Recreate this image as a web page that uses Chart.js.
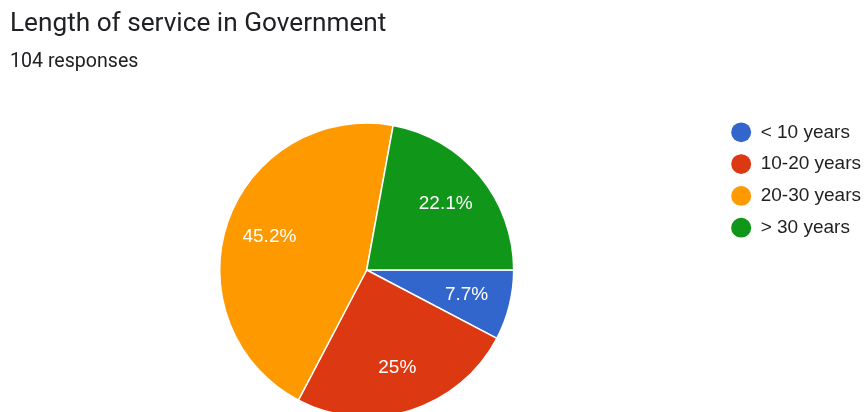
<!DOCTYPE html>
<html>
<head>
<meta charset="utf-8">
<script src="https://cdn.jsdelivr.net/npm/chart.js@4.4.1/dist/chart.umd.min.js"></script>
<style>
  html, body { margin: 0; padding: 0; background: #fff; overflow: hidden; width: 866px; height: 412px; }
  #wrap { position: relative; width: 866px; height: 412px; overflow: hidden; }
  #title { position: absolute; left: 10px; top: 7px; font-family: Roboto, 'Liberation Sans', sans-serif; font-size: 26.2px; color: #202124; white-space: nowrap; }
  #subtitle { position: absolute; left: 10px; top: 49px; font-family: Roboto, 'Liberation Sans', sans-serif; font-size: 19.6px; color: #202124; white-space: nowrap; }
  #c { position: absolute; left: 0; top: 0; }
</style>
</head>
<body>
<div id="wrap">
  <canvas id="c" width="871" height="440" style="width:871px;height:440px"></canvas>
  <div id="title">Length of service in Government</div>
  <div id="subtitle">104 responses</div>
</div>
<script>
const categories = ['< 10 years', '10-20 years', '20-30 years', '> 30 years'];
const responses = [8, 26, 47, 23];
const sliceColors = ['#3366cc', '#dc3912', '#ff9900', '#109618'];

const total = responses.reduce((a, b) => a + b, 0);

const pctLabels = {
  id: 'pctLabels',
  afterDatasetsDraw(chart) {
    const ctx = chart.ctx;
    const meta = chart.getDatasetMeta(0);
    ctx.save();
    ctx.font = '19px "Liberation Sans", Arial, sans-serif';
    ctx.fillStyle = '#ffffff';
    ctx.textAlign = 'center';
    ctx.textBaseline = 'middle';
    meta.data.forEach((arc, i) => {
      const p = arc.getProps(['x', 'y', 'startAngle', 'endAngle', 'outerRadius'], true);
      const mid = (p.startAngle + p.endAngle) / 2;
      const r = p.outerRadius * 0.7;
      const pct = Math.round(responses[i] / total * 1000) / 10;
      ctx.fillText(pct + '%', p.x + Math.cos(mid) * r, p.y + Math.sin(mid) * r);
    });
    ctx.restore();
  }
};

new Chart(document.getElementById('c'), {
  type: 'pie',
  data: {
    labels: categories,
    datasets: [{
      data: responses,
      backgroundColor: sliceColors,
      borderColor: '#ffffff',
      borderWidth: 1.5,
      radius: 147
    }]
  },
  options: {
    responsive: false,
    animation: false,
    rotation: 90,
    layout: { padding: { left: 15, top: 110, bottom: 10, right: 0 } },
    plugins: {
      tooltip: { enabled: false },
      legend: {
        position: 'right',
        align: 'start',
        labels: {
          usePointStyle: true,
          pointStyle: 'circle',
          pointStyleWidth: 20,
          boxHeight: 14,
          padding: 12.8,
          color: '#222222',
          font: { family: '"Liberation Sans", Arial, sans-serif', size: 19 },
          generateLabels(chart) {
            const items = Chart.overrides.pie.plugins.legend.labels.generateLabels(chart);
            items.forEach(it => { it.lineWidth = 0; it.strokeStyle = it.fillStyle; });
            return items;
          }
        }
      }
    }
  },
  plugins: [pctLabels]
});
</script>
</body>
</html>
